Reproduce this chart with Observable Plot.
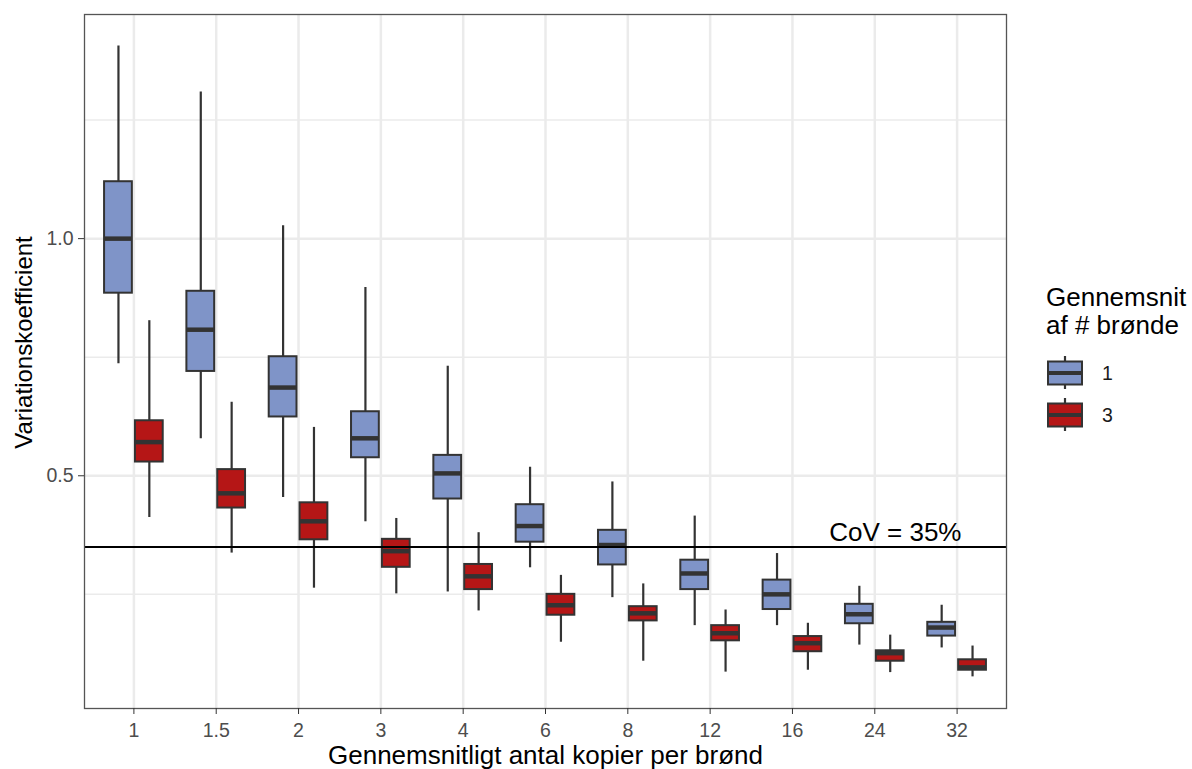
<!DOCTYPE html>
<html>
<head>
<meta charset="utf-8">
<script src="https://cdn.jsdelivr.net/npm/d3@7"></script>
<script src="https://cdn.jsdelivr.net/npm/@observablehq/plot@0.6"></script>
<style>
  html, body { margin: 0; padding: 0; background: #fff; }
  #wrap { position: relative; width: 1192px; height: 769px; font-family: "Liberation Sans", Arial, sans-serif; }
  #legend { position: absolute; left: 1046px; top: 283px; }
  #legend .title { font-size: 26px; line-height: 28px; color: #000; white-space: nowrap; }
</style>
</head>
<body>
<div id="wrap">
  <div id="chart"></div>
  <div id="legend"></div>
</div>
<script>
// ---- data ----
const categories = ["1", "1.5", "2", "3", "4", "6", "8", "12", "16", "24", "32"];
const groups = ["1", "3"];
const groupColors = ["#7F94C8", "#B51616"];

// group "1" (1 well)
const blueLow  = [0.736, 0.578, 0.454, 0.403, 0.255, 0.306, 0.243, 0.184, 0.184, 0.143, 0.137];
const blueQ1   = [0.885, 0.720, 0.624, 0.538, 0.451, 0.360, 0.312, 0.260, 0.218, 0.188, 0.162];
const blueMed  = [1.000, 0.808, 0.686, 0.579, 0.505, 0.394, 0.354, 0.294, 0.250, 0.208, 0.180];
const blueQ3   = [1.120, 0.889, 0.751, 0.635, 0.543, 0.439, 0.385, 0.322, 0.280, 0.229, 0.191];
const blueHigh = [1.406, 1.309, 1.027, 0.897, 0.731, 0.518, 0.487, 0.415, 0.336, 0.267, 0.227];

// group "3" (mean of 3 wells)
const redLow  = [0.412, 0.337, 0.263, 0.251, 0.215, 0.149, 0.109, 0.086, 0.090, 0.085, 0.076];
const redQ1   = [0.529, 0.432, 0.365, 0.307, 0.260, 0.206, 0.194, 0.152, 0.129, 0.109, 0.090];
const redMed  = [0.571, 0.463, 0.404, 0.341, 0.288, 0.227, 0.210, 0.168, 0.147, 0.126, 0.096];
const redQ3   = [0.616, 0.513, 0.443, 0.366, 0.313, 0.250, 0.224, 0.184, 0.161, 0.131, 0.112];
const redHigh = [0.827, 0.655, 0.602, 0.410, 0.380, 0.290, 0.272, 0.217, 0.189, 0.164, 0.141];

const yMajorTicks = [0.5, 1.0];
const yMinorTicks = [0.25, 0.75, 1.25];
const cov = 0.35;
const covLabel = "CoV = 35%";
const covLabelX = 9.25;

const xTitle = "Gennemsnitligt antal kopier per brønd";
const yTitle = "Variationskoefficient";
const legendTitle = ["Gennemsnit", "af # brønde"];

// ---- build table ----
const dodge = 0.1875, halfW = 0.16875;
const rows = categories.flatMap((c, i) => [
  {i, g: groups[0], off: -dodge, lo: blueLow[i], q1: blueQ1[i], med: blueMed[i], q3: blueQ3[i], hi: blueHigh[i]},
  {i, g: groups[1], off: dodge, lo: redLow[i], q1: redQ1[i], med: redMed[i], q3: redQ3[i], hi: redHigh[i]}
]);
const idx = d3.range(categories.length);
const dark = "#333333";

const chart = Plot.plot({
  width: 1192,
  height: 769,
  marginTop: 14,
  marginRight: 186,
  marginBottom: 61,
  marginLeft: 84,
  style: {fontFamily: "'Liberation Sans', Arial, sans-serif", background: "#fff"},
  x: {domain: [-0.6, categories.length - 0.4]},
  y: {domain: [0.0093, 1.4726]},
  color: {domain: groups, range: groupColors},
  marks: [
    Plot.ruleY(yMinorTicks, {stroke: "#EBEBEB", strokeWidth: 1.5}),
    Plot.ruleY(yMajorTicks, {stroke: "#EBEBEB", strokeWidth: 2.5}),
    Plot.ruleX(idx, {stroke: "#EBEBEB", strokeWidth: 2.5}),
    Plot.ruleX(rows, {x: d => d.i + d.off, y1: "lo", y2: "hi", stroke: dark, strokeWidth: 2.2}),
    Plot.rect(rows, {x1: d => d.i + d.off - halfW, x2: d => d.i + d.off + halfW, y1: "q1", y2: "q3",
      fill: "g", stroke: dark, strokeWidth: 2}),
    Plot.ruleY(rows, {x1: d => d.i + d.off - halfW, x2: d => d.i + d.off + halfW, y: "med",
      stroke: dark, strokeWidth: 4.5}),
    Plot.ruleY([cov], {stroke: "#000", strokeWidth: 2}),
    Plot.text([covLabel], {x: covLabelX, y: cov, text: d => d, dy: -14, fontSize: 26, fill: "#000"}),
    Plot.frame({stroke: "#555", strokeWidth: 1.3}),
    Plot.axisX(idx, {tickFormat: i => categories[i], tickSize: 6, tickPadding: 9, fontSize: 19.5,
      stroke: dark, fill: "#4D4D4D", label: null}),
    Plot.axisY(yMajorTicks, {tickFormat: d3.format(".1f"), tickSize: 6, tickPadding: 5, fontSize: 19.5,
      stroke: dark, fill: "#4D4D4D", label: null}),
    Plot.text([yTitle], {frameAnchor: "left", dx: -60, dy: -19, rotate: -90, textAnchor: "middle",
      lineAnchor: "middle", text: d => d, fontSize: 24, fill: "#000"}),
    Plot.text([xTitle], {frameAnchor: "bottom", dy: 47, textAnchor: "middle", lineAnchor: "middle",
      text: d => d, fontSize: 26, fill: "#000"})
  ]
});
document.getElementById("chart").appendChild(chart);

// ---- legend ----
const leg = d3.select("#legend");
const t = leg.append("div").attr("class", "title");
legendTitle.forEach(s => t.append("div").text(s));
const svg = leg.append("svg").attr("width", 146).attr("height", 100)
  .style("display", "block").style("margin-left", "-6px").style("margin-top", "17px");
groups.forEach((g, k) => {
  const cy = 17 + k * 42;
  const gg = svg.append("g");
  gg.append("line").attr("x1", 25).attr("x2", 25).attr("y1", cy - 17).attr("y2", cy + 16)
    .attr("stroke", dark).attr("stroke-width", 2.2);
  gg.append("rect").attr("x", 8).attr("y", cy - 11.5).attr("width", 34).attr("height", 23)
    .attr("fill", groupColors[k]).attr("stroke", dark).attr("stroke-width", 2);
  gg.append("line").attr("x1", 8).attr("x2", 42).attr("y1", cy).attr("y2", cy)
    .attr("stroke", dark).attr("stroke-width", 4);
  gg.append("text").attr("x", 62).attr("y", cy).attr("dy", "0.35em")
    .attr("font-size", 19.5).attr("fill", "#1a1a1a")
    .attr("font-family", "'Liberation Sans', Arial, sans-serif").text(g);
});
</script>
</body>
</html>
